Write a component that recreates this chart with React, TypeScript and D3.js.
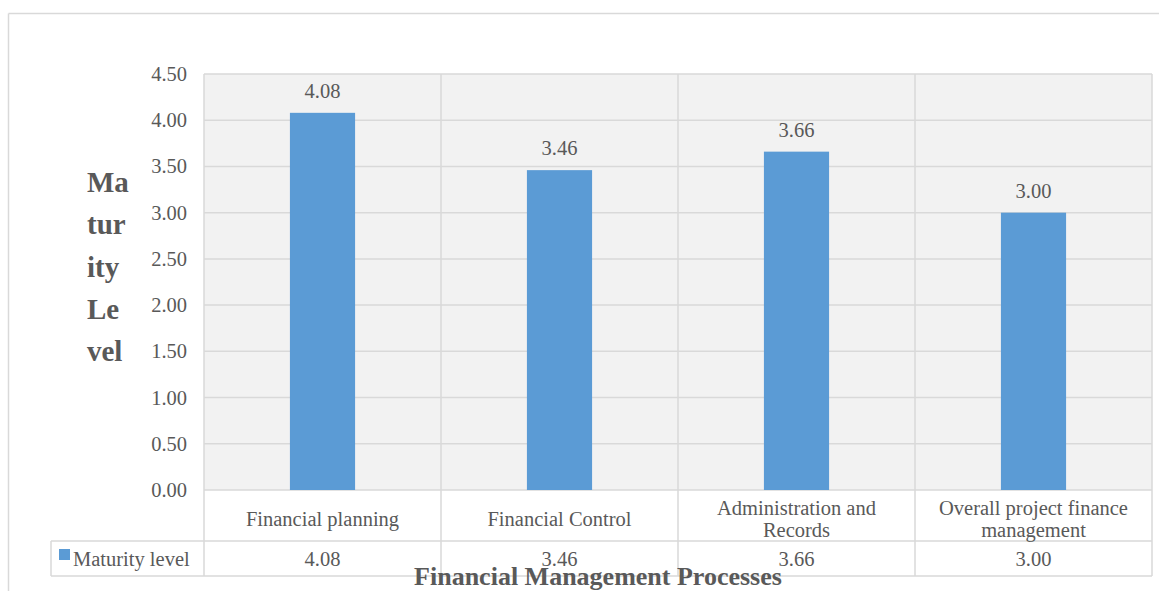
import React from "react";
import * as d3 from "d3";

const categories: string[][] = [
  ["Financial planning"],
  ["Financial Control"],
  ["Administration and", "Records"],
  ["Overall project finance", "management"],
];
const seriesName = "Maturity level";
const values = [4.08, 3.46, 3.66, 3.0];
const yTicks = [0, 0.5, 1, 1.5, 2, 2.5, 3, 3.5, 4, 4.5];
const yTitleLines = ["Ma", "tur", "ity", "Le", "vel"];
const xTitle = "Financial Management Processes";

const W = 1159;
const H = 591;
const plotL = 204;
const plotR = 1152;
const plotT = 74;
const plotB = 490;
const rowCatB = 541;
const rowValB = 576;
const legendL = 51;

const textColor = "#595959";
const gridColor = "#d9d9d9";
const barColor = "#5b9bd5";
const font = "Liberation Serif, Times New Roman, DejaVu Serif, serif";
const fs = 20.5;

export default function App() {
  const x = d3
    .scaleBand<number>()
    .domain(d3.range(values.length))
    .range([plotL, plotR])
    .paddingInner(0)
    .paddingOuter(0);
  const y = d3.scaleLinear().domain([0, 4.5]).range([plotB, plotT]);
  const bw = x.bandwidth();
  const barW = bw * 0.275;

  return (
    <svg
      width={W}
      height={H}
      fontFamily={font}
      style={{ position: "absolute", left: 0, top: 0 }}
    >
      <rect x={0} y={0} width={W} height={H} fill="#fff" />
      {/* outer chart frame */}
      <line x1={8.5} y1={13.5} x2={W} y2={13.5} stroke={gridColor} strokeWidth={1.5} />
      <line x1={8.5} y1={13.5} x2={8.5} y2={H} stroke={gridColor} strokeWidth={1.5} />

      {/* plot area */}
      <rect x={plotL} y={plotT} width={plotR - plotL} height={plotB - plotT} fill="#f2f2f2" />
      {yTicks.map((t) => (
        <line
          key={"g" + t}
          x1={plotL}
          x2={plotR}
          y1={y(t)}
          y2={y(t)}
          stroke={gridColor}
          strokeWidth={1.5}
        />
      ))}
      {d3.range(values.length + 1).map((i) => {
        const xx = i < values.length ? x(i)! : plotR;
        return (
          <line
            key={"v" + i}
            x1={xx}
            x2={xx}
            y1={plotT}
            y2={rowValB}
            stroke={gridColor}
            strokeWidth={1.5}
          />
        );
      })}

      {/* bars */}
      {values.map((v, i) => (
        <rect
          key={"b" + i}
          x={x(i)! + bw / 2 - barW / 2}
          y={y(v)}
          width={barW}
          height={y(0) - y(v)}
          fill={barColor}
        />
      ))}
      {values.map((v, i) => (
        <text
          key={"l" + i}
          x={x(i)! + bw / 2}
          y={y(v) - 15}
          textAnchor="middle"
          fontSize={fs}
          fill={textColor}
        >
          {v.toFixed(2)}
        </text>
      ))}

      {/* y tick labels */}
      {yTicks.map((t) => (
        <text
          key={"t" + t}
          x={187}
          y={y(t) + 7}
          textAnchor="end"
          fontSize={fs}
          fill={textColor}
        >
          {t.toFixed(2)}
        </text>
      ))}

      {/* data table */}
      <line x1={legendL} x2={plotR} y1={rowCatB} y2={rowCatB} stroke={gridColor} strokeWidth={1.5} />
      <line x1={legendL} x2={plotR} y1={rowValB} y2={rowValB} stroke={gridColor} strokeWidth={1.5} />
      <line x1={legendL} x2={legendL} y1={rowCatB} y2={rowValB} stroke={gridColor} strokeWidth={1.5} />
      {categories.map((lines, i) => {
        const cx = x(i)! + bw / 2;
        const mid = (plotB + rowCatB) / 2;
        const lh = 22;
        const start = mid - ((lines.length - 1) * lh) / 2 + 10;
        return (
          <text key={"c" + i} textAnchor="middle" fontSize={fs} fill={textColor}>
            {lines.map((ln, j) => (
              <tspan key={j} x={cx} y={start + j * lh}>
                {ln}
              </tspan>
            ))}
          </text>
        );
      })}
      <rect x={59} y={549} width={11} height={11} fill={barColor} />
      <text x={73} y={566} fontSize={fs} fill={textColor}>
        {seriesName}
      </text>
      {values.map((v, i) => (
        <text
          key={"d" + i}
          x={x(i)! + bw / 2}
          y={566}
          textAnchor="middle"
          fontSize={fs}
          fill={textColor}
        >
          {v.toFixed(2)}
        </text>
      ))}

      {/* axis titles */}
      <text
        x={598}
        y={585}
        textAnchor="middle"
        fontSize={26}
        fontWeight="bold"
        fill={textColor}
      >
        {xTitle}
      </text>
      {yTitleLines.map((ln, i) => (
        <text
          key={"yt" + i}
          x={87}
          y={192 + i * 42.3}
          fontSize={29}
          fontWeight="bold"
          fill={textColor}
        >
          {ln}
        </text>
      ))}
    </svg>
  );
}
